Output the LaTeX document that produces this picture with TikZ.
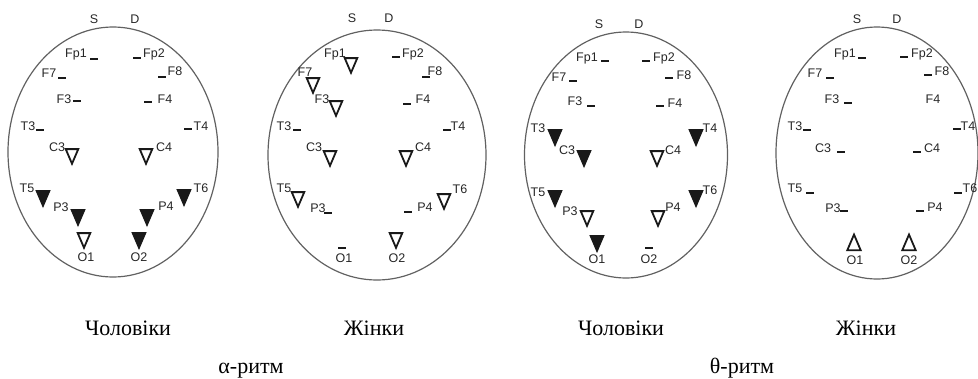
\documentclass[tikz,border=0pt]{standalone}
\usepackage{fontspec}
\setmainfont{Liberation Serif}
\setsansfont{Liberation Sans}
\usetikzlibrary{shapes.geometric}
\newcommand{\tr}{14.5pt}

\begin{document}
\begin{tikzpicture}[x=1pt, y=-1pt,
    head/.style={draw=black!62, line width=1.2pt},
    el/.style={font=\sffamily\fontsize{12.5}{12.5}\selectfont, text=black!85, inner sep=0pt, text height=9pt, text depth=0pt},
    title/.style={font=\fontsize{22}{22}\selectfont, inner sep=0pt, text height=15pt, text depth=0pt},
    nochg/.style={fill=black!90, inner sep=0pt, minimum width=8pt, minimum height=2pt},
    dec/.style={draw=black!90, line width=1.8pt, regular polygon, regular polygon sides=3, shape border rotate=180, minimum size=\tr, inner sep=0pt, yscale=1.35},
    decs/.style={dec, fill=black!90},
    inc/.style={dec, shape border rotate=0, minimum size=15.5pt}]
    \useasboundingbox (0,0) rectangle (978,378);

    % First head
    \draw[head] (113,152) ellipse [x radius=105, y radius=125];
    \node[el] (s-1) at (94,19) {S};
    \node[el] (d-1) at (135,19) {D};
    \node[el] (t-1-fp1) at (76,53) {Fp1};   \node[nochg] (e-1-fp1) at (94,59) {};
    \node[nochg] (e-1-fp2) at (137,58) {};  \node[el] (t-1-fp2) at (154,53) {Fp2};
    \node[el] (t-1-f7) at (49,73) {F7};     \node[nochg] (e-1-f7) at (62,78) {};
    \node[nochg] (e-1-f8) at (162,77) {};   \node[el] (t-1-f8) at (175,71) {F8};
    \node[el] (t-1-f3) at (64,99) {F3};     \node[nochg] (e-1-f3) at (77,101) {};
    \node[nochg] (e-1-f4) at (148,102) {};  \node[el] (t-1-f4) at (165,99) {F4};
    \node[el] (t-1-t3) at (28,126) {T3};    \node[nochg] (e-1-t3) at (40,130) {};
    \node[nochg] (e-1-t4) at (188,129) {};  \node[el] (t-1-t4) at (201,126) {T4};
    \node[el] (t-1-c3) at (57,147) {C3};    \node[dec] (e-1-c3) at (72,154) {};
    \node[dec] (e-1-c4) at (146,154) {};    \node[el] (t-1-c4) at (164,147) {C4};
    \node[el] (t-1-t5) at (27,188) {T5};    \node[decs] (e-1-t5) at (43,196) {};
    \node[decs] (e-1-t6) at (184,195) {};   \node[el] (t-1-t6) at (201,188) {T6};
    \node[el] (t-1-p3) at (61,207) {P3};    \node[decs] (e-1-p3) at (78,215) {};
    \node[decs] (e-1-p4) at (147,215) {};   \node[el] (t-1-p4) at (166,206) {P4};
    \node[dec] (e-1-o1) at (84,238) {};     \node[el] (t-1-o1) at (86,257) {O1};
    \node[decs] (e-1-o2) at (139,238) {};   \node[el] (t-1-o2) at (139,257) {O2};

    % Second head
    \draw[head] (377,155) ellipse [x radius=109, y radius=125];
    \node[el] (s-2) at (352,18) {S};
    \node[el] (d-2) at (389,18) {D};
    \node[el] (t-2-fp1) at (335,53) {Fp1};  \node[dec] (e-2-fp1) at (351,63) {};
    \node[nochg] (e-2-fp2) at (396,57) {};  \node[el] (t-2-fp2) at (413,53) {Fp2};
    \node[el] (t-2-f7) at (305,72) {F7};    \node[dec] (e-2-f7) at (313,83) {};
    \node[nochg] (e-2-f8) at (426,77) {};   \node[el] (t-2-f8) at (435,71) {F8};
    \node[el] (t-2-f3) at (322,99) {F3};    \node[dec] (e-2-f3) at (336,106) {};
    \node[nochg] (e-2-f4) at (407,104) {};  \node[el] (t-2-f4) at (423,99) {F4};
    \node[el] (t-2-t3) at (284,126) {T3};   \node[nochg] (e-2-t3) at (297,130) {};
    \node[nochg] (e-2-t4) at (447,130) {};  \node[el] (t-2-t4) at (458,126) {T4};
    \node[el] (t-2-c3) at (314,147) {C3};   \node[dec] (e-2-c3) at (330,156) {};
    \node[dec] (e-2-c4) at (406,156) {};    \node[el] (t-2-c4) at (423,147) {C4};
    \node[el] (t-2-t5) at (284,188) {T5};   \node[dec] (e-2-t5) at (298,197) {};
    \node[dec] (e-2-t6) at (444,199) {};    \node[el] (t-2-t6) at (460,189) {T6};
    \node[el] (t-2-p3) at (318,208) {P3};   \node[nochg] (e-2-p3) at (328,213) {};
    \node[nochg] (e-2-p4) at (408,212) {};  \node[el] (t-2-p4) at (425,207) {P4};
    \node[nochg] (e-2-o1) at (342,248) {};  \node[el] (t-2-o1) at (344,258) {O1};
    \node[dec] (e-2-o2) at (396,238) {};    \node[el] (t-2-o2) at (397,258) {O2};

    % Third head
    \draw[head] (626,155) ellipse [x radius=101.5, y radius=123];
    \node[el] (s-3) at (599,24) {S};
    \node[el] (d-3) at (639,24) {D};
    \node[el] (t-3-fp1) at (587,57) {Fp1};  \node[nochg] (e-3-fp1) at (605,61) {};
    \node[nochg] (e-3-fp2) at (646,61) {};  \node[el] (t-3-fp2) at (664,57) {Fp2};
    \node[el] (t-3-f7) at (559,77) {F7};    \node[nochg] (e-3-f7) at (573,81) {};
    \node[nochg] (e-3-f8) at (669,78) {};   \node[el] (t-3-f8) at (684,75) {F8};
    \node[el] (t-3-f3) at (575,101) {F3};   \node[nochg] (e-3-f3) at (591,106) {};
    \node[nochg] (e-3-f4) at (660,106) {};  \node[el] (t-3-f4) at (675,103) {F4};
    \node[el] (t-3-t3) at (538,128) {T3};   \node[decs] (e-3-t3) at (555,135) {};
    \node[decs] (e-3-t4) at (696,135) {};   \node[el] (t-3-t4) at (710,128) {T4};
    \node[el] (t-3-c3) at (567,150) {C3};   \node[decs] (e-3-c3) at (584,156) {};
    \node[dec] (e-3-c4) at (657,156) {};    \node[el] (t-3-c4) at (673,150) {C4};
    \node[el] (t-3-t5) at (538,192) {T5};   \node[decs] (e-3-t5) at (555,196) {};
    \node[decs] (e-3-t6) at (696,196) {};   \node[el] (t-3-t6) at (710,190) {T6};
    \node[el] (t-3-p3) at (570,211) {P3};   \node[dec] (e-3-p3) at (587,216) {};
    \node[dec] (e-3-p4) at (658,216) {};    \node[el] (t-3-p4) at (673,207) {P4};
    \node[decs] (e-3-o1) at (597,241) {};   \node[el] (t-3-o1) at (597,259) {O1};
    \node[nochg] (e-3-o2) at (649,248) {};  \node[el] (t-3-o2) at (649,259) {O2};

    % Fourth head
    \draw[head] (877,153) ellipse [x radius=101, y radius=126];
    \node[el] (s-4) at (857,19) {S};
    \node[el] (d-4) at (897,19) {D};
    \node[el] (t-4-fp1) at (845,53) {Fp1};  \node[nochg] (e-4-fp1) at (862,58) {};
    \node[nochg] (e-4-fp2) at (904,57) {};  \node[el] (t-4-fp2) at (922,53) {Fp2};
    \node[el] (t-4-f7) at (815,73) {F7};    \node[nochg] (e-4-f7) at (830,78) {};
    \node[nochg] (e-4-f8) at (928,75) {};   \node[el] (t-4-f8) at (942,71) {F8};
    \node[el] (t-4-f3) at (832,99) {F3};    \node[nochg] (e-4-f3) at (848,103) {};
    \node[el] (t-4-f4) at (933,99) {F4};
    \node[el] (t-4-t3) at (795,126) {T3};   \node[nochg] (e-4-t3) at (807,130) {};
    \node[nochg] (e-4-t4) at (957,129) {};  \node[el] (t-4-t4) at (968,126) {T4};
    \node[el] (t-4-c3) at (823,148) {C3};   \node[nochg] (e-4-c3) at (841,152) {};
    \node[nochg] (e-4-c4) at (917,152) {};  \node[el] (t-4-c4) at (932,148) {C4};
    \node[el] (t-4-t5) at (795,188) {T5};   \node[nochg] (e-4-t5) at (810,193) {};
    \node[nochg] (e-4-t6) at (958,193) {};  \node[el] (t-4-t6) at (970,188) {T6};
    \node[el] (t-4-p3) at (833,208) {P3};   \node[nochg] (e-4-p3) at (844,211) {};
    \node[nochg] (e-4-p4) at (920,211) {};  \node[el] (t-4-p4) at (935,207) {P4};
    \node[inc] (e-4-o1) at (854,245) {};    \node[el] (t-4-o1) at (855,260) {O1};
    \node[inc] (e-4-o2) at (909,245) {};    \node[el] (t-4-o2) at (909,260) {O2};

    % Captions
    \node[title] (sex-1) at (128,328) {Чоловіки};
    \node[title] (sex-2) at (374,328) {Жінки};
    \node[title] (sex-3) at (621,328) {Чоловіки};
    \node[title] (sex-4) at (866,328) {Жінки};
    \node[title] (rhythm-a) at (251,366) {α-ритм};
    \node[title] (rhythm-t) at (742,366) {θ-ритм};

\end{tikzpicture}
\end{document}
